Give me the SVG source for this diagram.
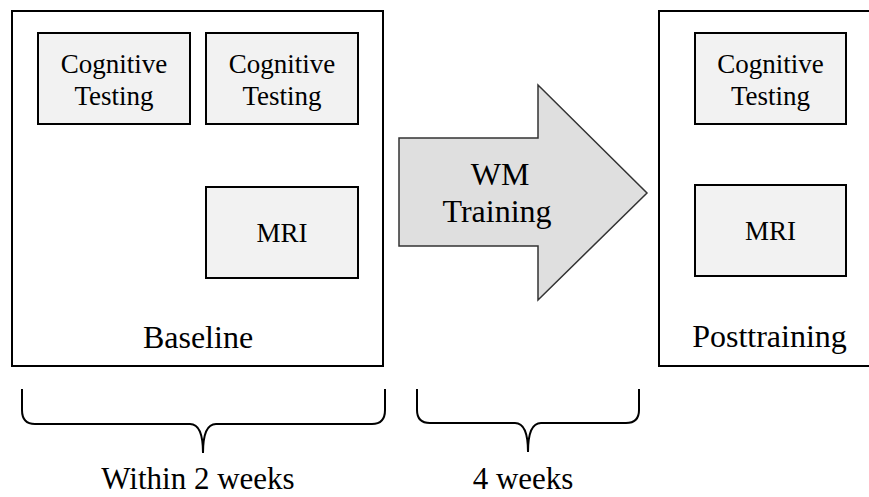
<svg xmlns="http://www.w3.org/2000/svg" width="869" height="497" viewBox="0 0 869 497">
<style>
.frame{fill:#ffffff;stroke:#000;stroke-width:2}
.box{fill:#f2f2f2;stroke:#000;stroke-width:2}
.arrow{fill:#dfdfdf;stroke:#333;stroke-width:1.5;stroke-linejoin:miter}
.brace{fill:none;stroke:#000;stroke-width:2}
.t{font-family:"Liberation Serif","Times New Roman",serif;fill:#000;text-anchor:middle}
.s{font-size:27px}
.m{font-size:32px}
.b{font-size:31px}
</style>
<rect width="869" height="497" fill="#fff"/>
<g id="baseline">
  <rect class="frame" x="12" y="11" width="371" height="355"/>
  <text class="t m" x="198" y="348">Baseline</text>
</g>
<g id="cog1">
  <rect class="box" x="38" y="33" width="152" height="91"/>
  <text class="t s" x="114" y="73">Cognitive</text>
  <text class="t s" x="114" y="105">Testing</text>
</g>
<g id="cog2">
  <rect class="box" x="206" y="33" width="152" height="91"/>
  <text class="t s" x="282" y="73">Cognitive</text>
  <text class="t s" x="282" y="105">Testing</text>
</g>
<g id="mri1">
  <rect class="box" x="206" y="187" width="152" height="91"/>
  <text class="t s" x="282" y="242">MRI</text>
</g>
<g id="training">
  <polygon class="arrow" points="399,138 538,138 538,85 647,193 538,300 538,246 399,246"/>
  <text class="t m" x="500" y="185">WM</text>
  <text class="t m" x="497" y="222">Training</text>
</g>
<g id="posttraining">
  <rect class="frame" x="659" y="11" width="220" height="355"/>
  <text class="t m" x="769.5" y="347">Posttraining</text>
</g>
<g id="cog3">
  <rect class="box" x="695" y="33" width="151" height="91"/>
  <text class="t s" x="770.5" y="73">Cognitive</text>
  <text class="t s" x="770.5" y="105">Testing</text>
</g>
<g id="mri2">
  <rect class="box" x="695" y="185" width="151" height="91"/>
  <text class="t s" x="770.5" y="240">MRI</text>
</g>
<g id="connectors">
  <path class="brace" d="M22,389 L22,410 Q22,424 35,424 L190,424 Q203,424 203,453 Q203,424 216,424 L372,424 Q385,424 385,410 L385,389"/>
  <path class="brace" d="M417,389 L417,410 Q417,423 430,423 L515,423 Q528,423 528,452 Q528,423 541,423 L626,423 Q639,423 639,410 L639,389"/>
</g>
<g id="labels">
  <text class="t b" x="198" y="489">Within 2 weeks</text>
  <text class="t b" x="523" y="489">4 weeks</text>
</g>
</svg>
